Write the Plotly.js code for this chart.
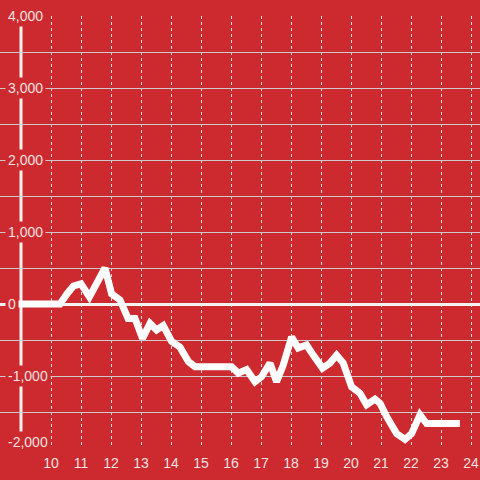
<!DOCTYPE html>
<html>
<head>
<meta charset="utf-8">
<script src="https://cdn.plot.ly/plotly-3.0.1.min.js"></script>
<style>html,body{margin:0;padding:0;background:#cc2a2f;}#chart{width:480px;height:480px;}</style>
</head>
<body>
<div id="chart"></div>
<script>
// Data (time of day, hours) and cumulative value
const times = [8.5, 10.0, 10.3, 10.55, 10.75, 11.0, 11.28, 11.8, 12.02, 12.3, 12.57, 12.8, 13.05, 13.3, 13.52, 13.74, 14.02, 14.3, 14.58, 14.8, 16.02, 16.24, 16.52, 16.8, 17.02, 17.3, 17.52, 17.74, 18.02, 18.24, 18.52, 18.74, 19.05, 19.3, 19.52, 19.74, 20.02, 20.3, 20.52, 20.8, 20.97, 21.19, 21.52, 21.8, 22.02, 22.3, 22.52, 23.63];
const values = [0, 0, 0, 150, 250, 280, 100, 500, 140, 55, -200, -200, -480, -270, -360, -300, -520, -600, -800, -870, -870, -960, -910, -1080, -1010, -820, -1080, -850, -460, -610, -570, -710, -890, -820, -710, -820, -1150, -1240, -1400, -1320, -1380, -1565, -1800, -1880, -1800, -1540, -1660, -1660];
const xTickVals = [10, 11, 12, 13, 14, 15, 16, 17, 18, 19, 20, 21, 22, 23, 24];
const yLabelVals = [4000, 3000, 2000, 1000, 0, -1000, -2000];
const yLabelText = ['4,000', '3,000', '2,000', '1,000', '0', '-1,000', '-2,000'];

const RED = '#cc2a2f';
const LABEL = '#f6e2e2';
const FONT = 'Liberation Sans, Arial, sans-serif';

const annotations = yLabelVals.map((v, i) => ({
  xref: 'paper', yref: 'y', x: 0.0105, y: v, xanchor: 'left', yanchor: 'middle',
  text: yLabelText[i], showarrow: false, bgcolor: RED, borderpad: 2,
  yshift: v === -2000 ? 6 : 0,
  font: {family: FONT, size: 14, color: LABEL}
}));

const trace = {
  x: times, y: values, type: 'scatter', mode: 'lines',
  line: {color: '#ffffff', width: 7, shape: 'linear'},
  hoverinfo: 'skip'
};

const layout = {
  width: 480, height: 480,
  margin: {l: 0, r: 0, t: 16, b: 32},
  paper_bgcolor: RED, plot_bgcolor: RED,
  showlegend: false,
  font: {family: FONT, size: 14, color: LABEL},
  xaxis: {
    range: [8.3, 24.3], tickvals: xTickVals, ticktext: xTickVals.map(String),
    showgrid: true, gridcolor: '#e9dcdc', griddash: 'dot', gridwidth: 1,
    zeroline: false, showline: false, ticks: '', ticklabelstandoff: 5,
    tickfont: {family: FONT, size: 14, color: LABEL}
  },
  yaxis: {
    range: [-2000, 4000], dtick: 500, tick0: 0, showticklabels: false,
    showgrid: true, gridcolor: '#cfc9c9', gridwidth: 1,
    zeroline: true, zerolinecolor: '#f4f1f1', zerolinewidth: 3,
    showline: false, ticks: ''
  },
  shapes: [{
    type: 'line', xref: 'x', yref: 'paper', x0: 9, x1: 9, y0: 0, y1: 1,
    line: {color: '#f4f1f1', width: 3}, layer: 'below'
  }],
  annotations: annotations
};

Plotly.newPlot('chart', [trace], layout, {staticPlot: true, displayModeBar: false});
</script>
</body>
</html>
